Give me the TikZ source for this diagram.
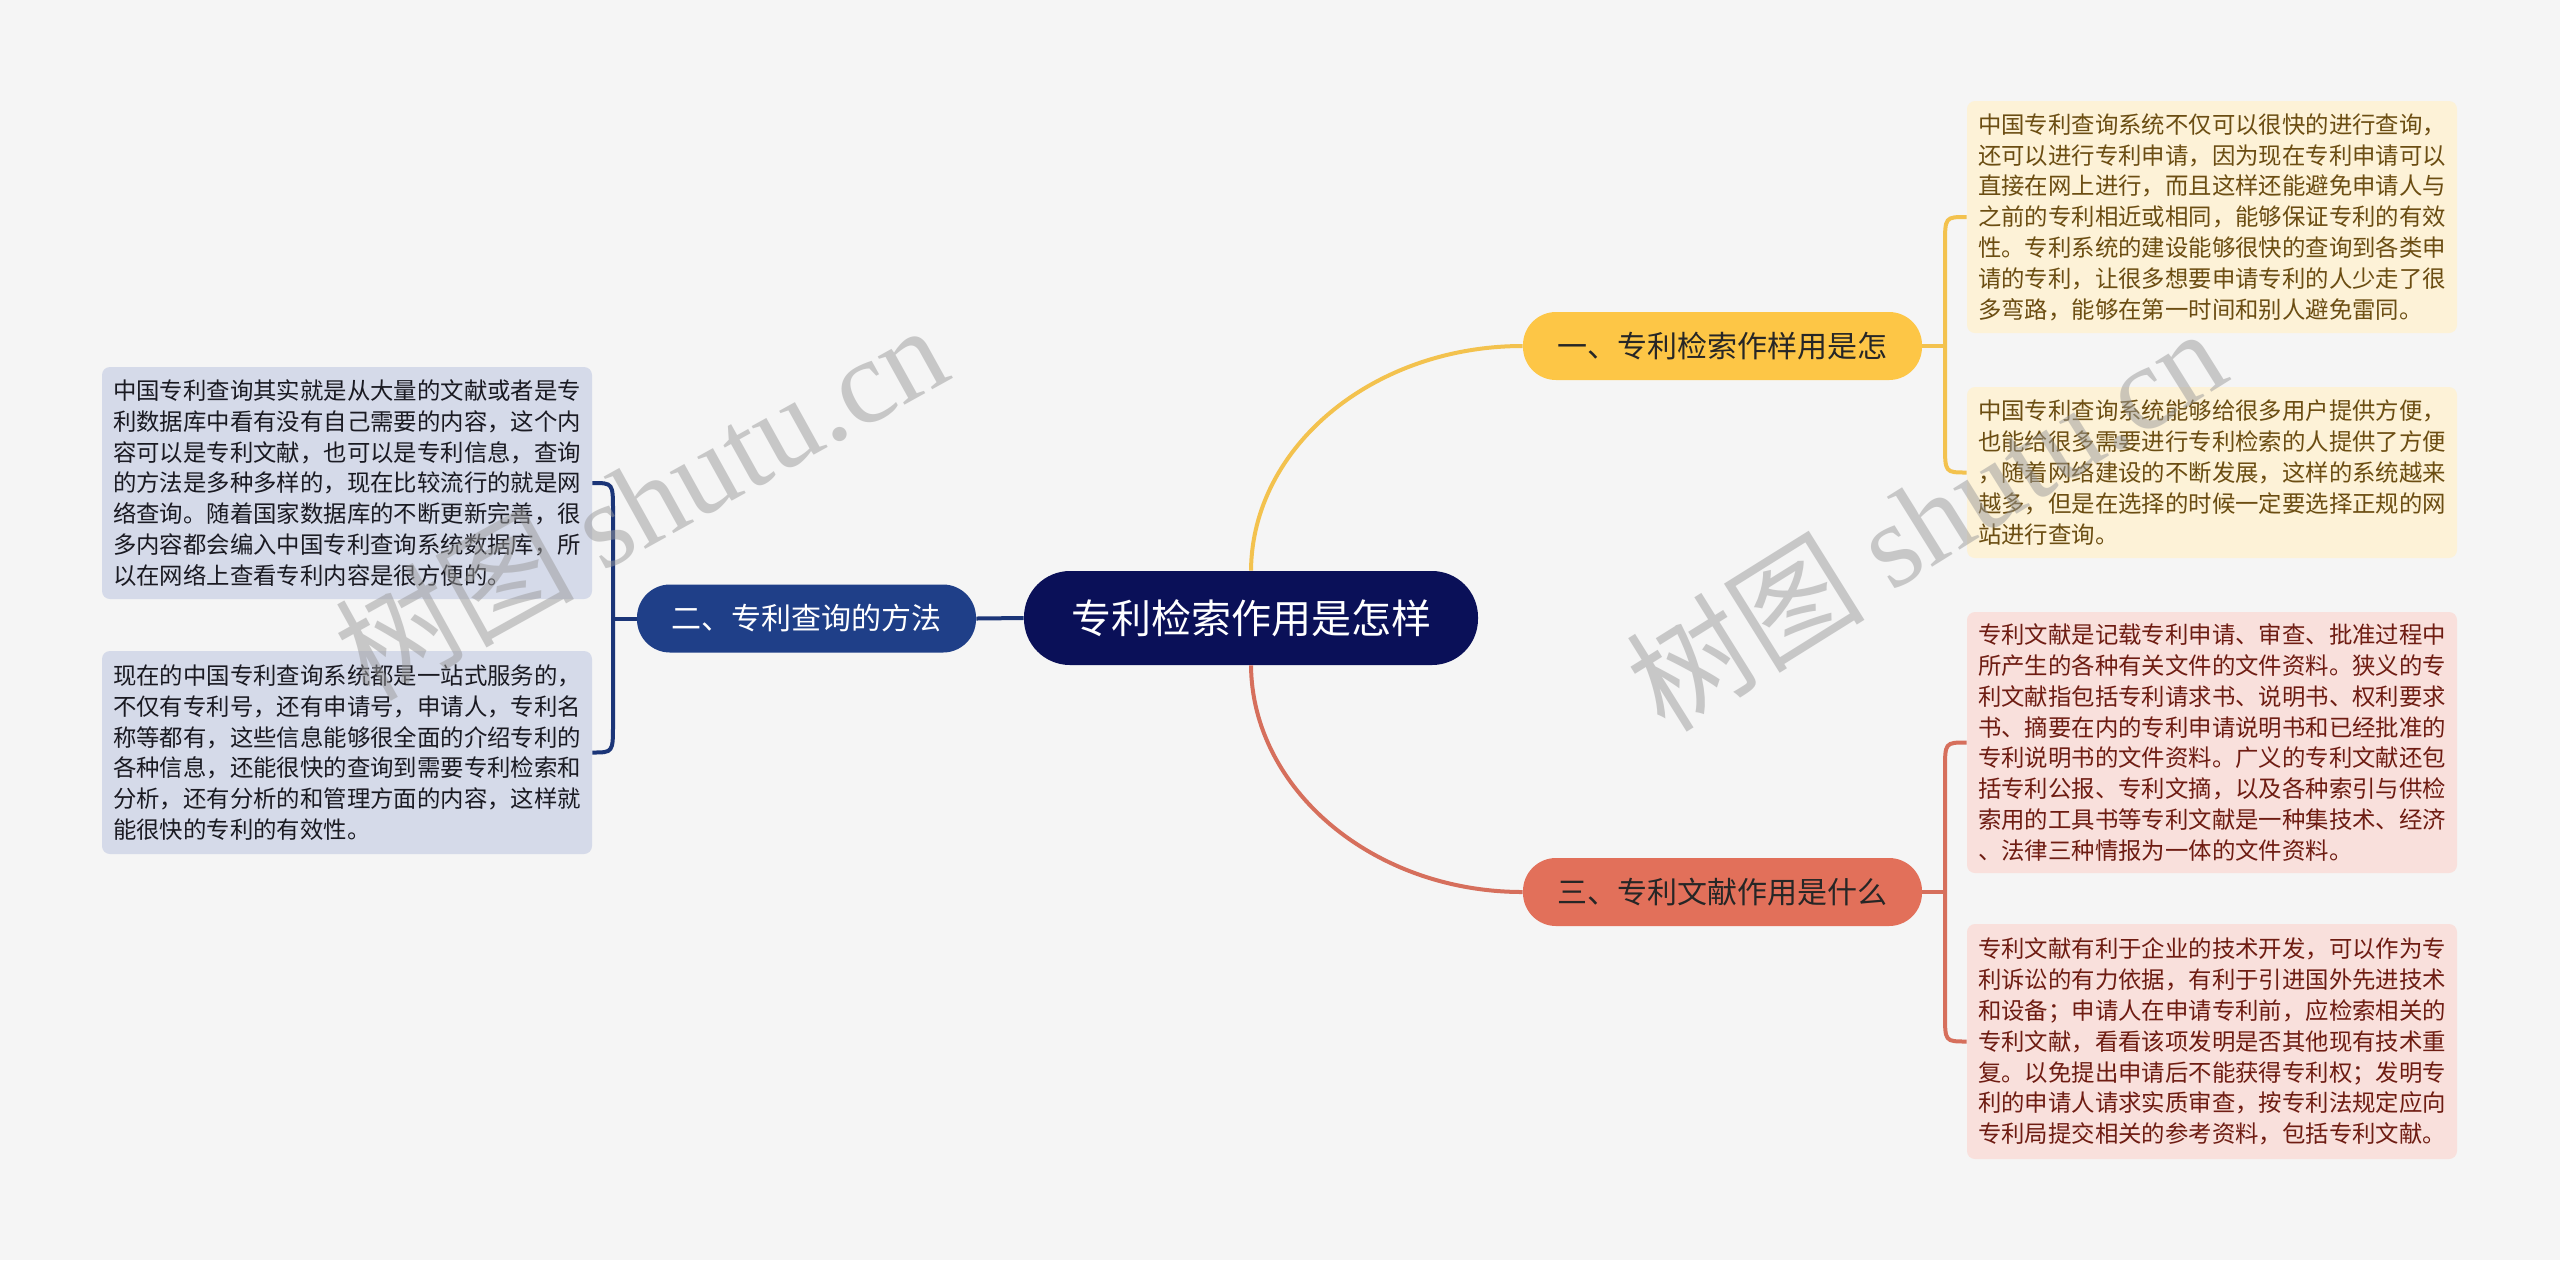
\documentclass[tikz,border=0pt]{standalone}
\usepackage{fontspec}
\setmainfont{Noto Sans CJK SC}
\newfontfamily\cjk{Noto Sans CJK SC}
\newfontfamily\wmlatin{Liberation Serif}
\definecolor{bg}{HTML}{F5F5F5}
\definecolor{rootc}{HTML}{0A1058}
\definecolor{bluec}{HTML}{1F3F88}
\definecolor{bluel}{HTML}{1B3578}
\definecolor{yelc}{HTML}{FDC646}
\definecolor{yell}{HTML}{F3C24E}
\definecolor{redc}{HTML}{E2705A}
\definecolor{redl}{HTML}{D66F5C}
\definecolor{yelbox}{HTML}{FDF2D7}
\definecolor{yeltxt}{HTML}{6B4D12}
\definecolor{redbox}{HTML}{F9E0DC}
\definecolor{redtxt}{HTML}{6E1C12}
\definecolor{bluebox}{HTML}{D5DAE9}
\definecolor{bluetxt}{HTML}{1A1A22}
\definecolor{wmc}{HTML}{9A9A9A}
\begin{document}
\begin{tikzpicture}[x=0.5pt,y=-0.5pt,
  leaf/.style={rounded corners=4pt, minimum width=245pt, inner sep=0pt, align=left,
    font=\fontsize{11.7pt}{15.4pt}\selectfont},
  yleaf/.style={leaf, fill=yelbox, text=yeltxt},
  rleaf/.style={leaf, fill=redbox, text=redtxt},
  bleaf/.style={leaf, fill=bluebox, text=bluetxt},
  rootnode/.style={fill=rootc, text=white, minimum width=227pt, minimum height=47pt,
    rounded corners=23pt, inner sep=0pt, font=\fontsize{20pt}{24pt}\selectfont},
  mainnode/.style={minimum height=34pt, rounded corners=16.5pt, inner sep=0pt,
    font=\fontsize{15pt}{18pt}\selectfont},
  yline/.style={draw=yell, line width=2pt},
  rline/.style={draw=redl, line width=2pt},
  bline/.style={draw=bluel, line width=2pt},
  wm/.style={text=wmc, text opacity=0.5, inner sep=0pt}
]
\fill[bg] (0,0) rectangle (2560,1260);
\useasboundingbox (0,0) rectangle (2560,1260);

% main nodes
\node[rootnode] (root) at (1251,618) {专利检索作用是怎样};
\node[mainnode, fill=bluec, text=white, minimum width=169.5pt] (m2) at (806.5,618.5) {二、专利查询的方法};
\node[mainnode, fill=yelc, text=black!85, minimum width=199.5pt] (m1) at (1722.5,346) {一、专利检索作样用是怎};
\node[mainnode, fill=redc, text=black!85, minimum width=199.5pt] (m3) at (1722.5,892) {三、专利文献作用是什么};

% leaves
\node[yleaf, minimum height=116pt] (b1) at (2212,217) {中国专利查询系统不仅可以很快的进行查询，\\还可以进行专利申请，因为现在专利申请可以\\直接在网上进行，而且这样还能避免申请人与\\之前的专利相近或相同，能够保证专利的有效\\性。专利系统的建设能够很快的查询到各类申\\请的专利，让很多想要申请专利的人少走了很\\多弯路，能够在第一时间和别人避免雷同。};
\node[yleaf, minimum height=85.5pt] (b2) at (2212,472.5) {中国专利查询系统能够给很多用户提供方便，\\也能给很多需要进行专利检索的人提供了方便\\，随着网络建设的不断发展，这样的系统越来\\越多，但是在选择的时候一定要选择正规的网\\站进行查询。};
\node[rleaf, minimum height=130.5pt] (b3) at (2212,742.5) {专利文献是记载专利申请、审查、批准过程中\\所产生的各种有关文件的文件资料。狭义的专\\利文献指包括专利请求书、说明书、权利要求\\书、摘要在内的专利申请说明书和已经批准的\\专利说明书的文件资料。广义的专利文献还包\\括专利公报、专利文摘，以及各种索引与供检\\索用的工具书等专利文献是一种集技术、经济\\、法律三种情报为一体的文件资料。};
\node[rleaf, minimum height=117.5pt] (b4) at (2212,1041.5) {专利文献有利于企业的技术开发，可以作为专\\利诉讼的有力依据，有利于引进国外先进技术\\和设备；申请人在申请专利前，应检索相关的\\专利文献，看看该项发明是否其他现有技术重\\复。以免提出申请后不能获得专利权；发明专\\利的申请人请求实质审查，按专利法规定应向\\专利局提交相关的参考资料，包括专利文献。};
\node[bleaf, minimum height=116pt] (b5) at (347,483) {中国专利查询其实就是从大量的文献或者是专\\利数据库中看有没有自己需要的内容，这个内\\容可以是专利文献，也可以是专利信息，查询\\的方法是多种多样的，现在比较流行的就是网\\络查询。随着国家数据库的不断更新完善，很\\多内容都会编入中国专利查询系统数据库，所\\以在网络上查看专利内容是很方便的。};
\node[bleaf, minimum height=101.5pt] (b6) at (347,752.5) {现在的中国专利查询系统都是一站式服务的，\\不仅有专利号，还有申请号，申请人，专利名\\称等都有，这些信息能够很全面的介绍专利的\\各种信息，还能很快的查询到需要专利检索和\\分析，还有分析的和管理方面的内容，这样就\\能很快的专利的有效性。};

% connectors from root
\draw[yline] (root.north) .. controls (1252,446) and (1374,346) .. (m1.west);
\draw[rline] (root.south) .. controls (1252,790) and (1374,892) .. (m3.west);
\draw[bline] (root.west) -- (m2.east);

% brackets
\coordinate (j1) at (1945,346);
\draw[yline] (m1.east) -- (j1);
\draw[yline] (b1.west) .. controls (1945,217) .. (1945,245) -- (1945,444) .. controls (1945,472.5) .. (b2.west);

\coordinate (j3) at (1945,892);
\draw[rline] (m3.east) -- (j3);
\draw[rline] (b3.west) .. controls (1945,742.5) .. (1945,770) -- (1945,1014) .. controls (1945,1041.5) .. (b4.west);

\coordinate (j2) at (613,618.5);
\draw[bline] (m2.west) -- (j2);
\draw[bline] (b5.east) .. controls (613,483) .. (613,511) -- (613,724) .. controls (613,752.5) .. (b6.east);

% watermarks
\node[wm, rotate=29, font=\fontsize{60pt}{64pt}\selectfont] at (640,500) {\cjk 树图\ \wmlatin shutu.cn};
\node[wm, rotate=32, font=\fontsize{60pt}{64pt}\selectfont] at (1925,518) {\cjk 树图\ \wmlatin shutu.cn};
\end{tikzpicture}
\end{document}
